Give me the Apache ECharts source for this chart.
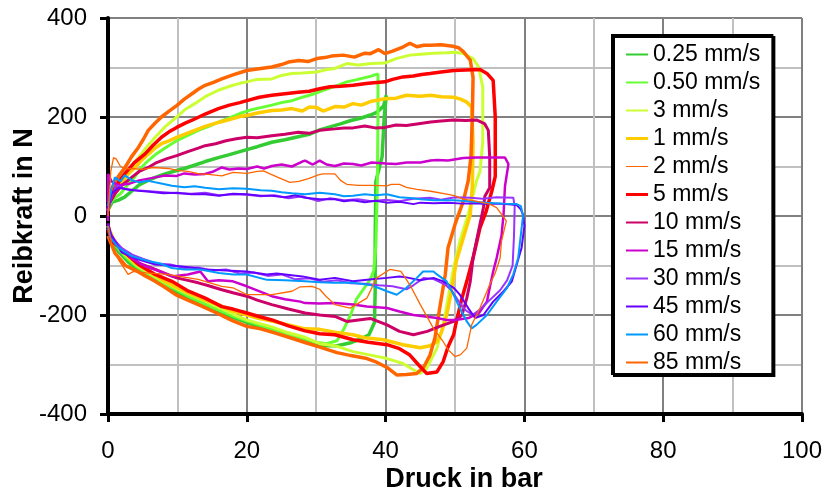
<!DOCTYPE html>
<html>
<head>
<meta charset="utf-8">
<script src="https://cdn.jsdelivr.net/npm/echarts@6/dist/echarts.min.js"></script>
<style>
  html, body { margin: 0; padding: 0; background: #fff; }
  #chart { width: 824px; height: 492px; }
</style>
</head>
<body>
<div id="chart"></div>
<script>
// Friction force vs. pressure, one hysteresis loop per piston speed.
// Each loop: [pressure in bar, friction force in N], in measurement order.

const speedNames = ['0.25 mm/s', '0.50 mm/s', '3 mm/s', '1 mm/s', '2 mm/s', '5 mm/s',
  '10 mm/s', '15 mm/s', '30 mm/s', '45 mm/s', '60 mm/s', '85 mm/s'];

const loop025 = [[0,12],[0.6,28],[1.5,32],[2.4,38],[3.4,50],[4.4,62],[5.5,70],[6.8,78],[8,84],[9.9,92],[11,96],[12.1,101],[14,110],[15.9,118],[17.5,124],[20,134],[21.5,140],[23.6,149],[25.5,154],[27.4,160],[29,165],[30.5,174],[32,180],[33.5,186],[35,193],[36.5,198],[37.8,204],[38.8,210],[39.7,222],[40.1,244],[39.8,200],[39.5,120],[38.6,70],[38.5,-50],[38.5,-150],[38.4,-215],[37.6,-240],[36.5,-248],[35,-256],[33,-262],[31,-262],[29,-255],[27,-248],[25,-236],[23,-227],[21,-220],[19,-210],[17,-200],[15,-188],[13,-176],[11,-163],[9,-148],[7,-133],[5,-115],[3,-94],[1.5,-72],[0.5,-50],[0,-20]];

const loop050 = [[0,20],[0.8,35],[1.8,45],[2.8,62],[3.8,78],[4.8,98],[5.8,112],[7,126],[8.5,140],[9.9,152],[11.5,163],[13,173],[14.5,181],[16,190],[17.5,198],[19,207],[20.5,214],[22,219],[23.6,224],[25,229],[26.5,233],[28,240],[29.5,246],[31,254],[32.7,262],[34.4,271],[36,276],[37.8,282],[38.9,287],[38.9,200],[38.8,50],[38.6,-60],[38.3,-110],[37.8,-128],[36.8,-148],[35.8,-168],[35,-198],[34,-228],[33,-252],[31.5,-258],[30,-255],[28,-247],[26,-240],[24,-230],[22,-221],[20,-212],[18,-202],[16,-190],[14,-178],[12,-165],[10,-150],[8,-136],[6,-120],[4,-101],[2.5,-82],[1,-58],[0,-25]];

const loop3 = [[0,30],[1,55],[2,75],[3,95],[4.4,118],[5.5,138],[6.8,159],[8.2,180],[9.9,200],[11,214],[12.5,227],[14,241],[15.9,254],[17.5,262],[19,268],[20,271],[21.5,276],[23.6,277],[25,284],[26.5,288],[28,289],[30.1,291],[31.5,296],[32.7,298],[34.4,308],[36,305],[38,308],[39.9,309],[41.5,318],[43.5,325],[45,327],[47,329],[48.8,330],[50,331],[51.2,328],[52.6,318],[53.4,301],[54,260],[54,150],[53.6,90],[53.1,71],[51.9,3],[50.7,-51],[49.8,-105],[49,-166],[48.3,-220],[47.4,-267],[45.9,-308],[45,-318],[44.3,-313],[42.5,-298],[40.2,-288],[37.5,-280],[35.3,-274],[32.7,-262],[30.5,-258],[28.4,-245],[26,-236],[23.6,-224],[21.5,-216],[20,-210],[18,-198],[16,-185],[14,-172],[12,-160],[10,-147],[8,-132],[6,-116],[4,-98],[2,-72],[0.8,-50],[0,-25]];

const loop1 = [[0,28],[1,48],[2,68],[2.9,85],[3.9,98],[4.8,112],[5.8,125],[6.7,136],[7.7,146],[8.8,152],[9.9,159],[11.2,166],[12.5,173],[14,181],[15.9,189],[17.5,195],[19,201],[20,203],[21.5,208],[23.6,213],[25,214],[26.5,217],[28,212],[29,220],[30.1,219],[31,212],[32.7,221],[34,220],[35.3,227],[36.5,224],[38,232],[39.9,237],[41.5,238],[43,244],[45,242],[46.5,244],[48,241],[49.8,240],[50.8,236],[51.7,230],[52.4,220],[52.6,150],[52.5,60],[52.2,3],[51.2,-44],[50.2,-91],[49.5,-152],[48.8,-200],[48.1,-233],[47.4,-254],[46.4,-262],[45,-266],[42.5,-260],[39.7,-250],[37,-246],[35.3,-240],[32.7,-235],[30.5,-229],[28.4,-228],[26,-220],[23.6,-212],[21.5,-206],[20,-200],[18,-192],[16,-180],[14,-170],[12,-158],[10,-145],[8,-130],[6,-113],[4,-96],[2,-70],[0.8,-48],[0,-20]];

const loop2 = [[0,10],[0.5,55],[1.5,80],[2.45,98],[3.4,120],[4.4,139],[5.1,155],[5.8,173],[6.8,188],[7.7,200],[8.8,212],[9.9,223],[11,236],[12.1,247],[13,256],[14,264],[15.2,270],[16.4,277],[18,285],[20,294],[21.5,297],[23.6,301],[25,306],[26,311],[27.5,314],[28.8,312],[30.1,318],[31.2,320],[32.2,323],[33.9,325],[35.5,321],[37,329],[37.8,328],[39,336],[39.9,328],[41,333],[42.3,340],[43.5,349],[44.5,342],[45.5,345],[46.4,345],[48,346],[49.7,343],[50.5,340],[51.2,332],[52.2,315],[52.6,280],[52.5,200],[52.3,120],[51.9,71],[51.2,30],[50,-17],[49,-64],[48.6,-118],[47.8,-186],[47.1,-247],[46.4,-281],[45.5,-305],[44.5,-318],[43,-320],[41.6,-321],[40.2,-306],[38.5,-294],[37.3,-288],[35,-282],[33,-276],[30.3,-264],[28.5,-256],[26.5,-247],[24,-236],[22,-228],[20,-223],[18,-212],[15.5,-195],[13.5,-182],[11.5,-170],[9.9,-160],[8.3,-145],[6.8,-132],[5.5,-122],[4.4,-113],[2.5,-100],[1,-75],[0,-40]];

const loop5 = [[0,20],[0.8,50],[1.6,70],[2.4,85],[3.8,108],[5.3,125],[6.5,143],[7.7,159],[8.8,170],[9.9,179],[11.2,188],[12.5,196],[14,206],[15.9,217],[17.5,224],[19,229],[20,233],[21.8,240],[23.6,244],[25.5,247],[27.4,250],[29,252],[30.5,257],[32,261],[33.5,262],[35.3,264],[37.5,268],[39.9,271],[41,276],[42.5,281],[44,283],[45.2,286],[46.4,288],[48,291],[49.8,294],[51.5,295],[53.6,296],[54.6,288],[55.5,274],[55.8,200],[55.8,80],[55.3,50],[54.5,10],[53.6,-24],[52.6,-85],[51.7,-132],[51,-166],[50.2,-213],[49.8,-240],[49,-264],[48.3,-294],[47.4,-315],[45.9,-318],[44.7,-300],[43.5,-281],[42,-268],[40.2,-260],[37.5,-255],[35.3,-250],[32.7,-240],[30.5,-238],[28.4,-232],[26,-222],[23.6,-210],[21.5,-202],[20,-196],[18,-188],[16.4,-183],[14,-166],[11.6,-152],[9.2,-132],[6.8,-118],[4.4,-98],[2,-68],[0.5,-50],[0,-25]];

const loop10 = [[0,20],[1,45],[2,62],[3.4,78],[4.5,90],[5.8,98],[7,108],[8.5,116],[9.9,122],[11.5,130],[13,137],[14,142],[15.5,146],[17,152],[18.5,156],[20,159],[21.5,158],[23.6,162],[25.5,165],[27.4,169],[29,167],[30.5,173],[32.7,176],[34,178],[35.3,178],[37,182],[38.5,178],[39.9,179],[41.5,184],[43,183],[45,187],[46.5,190],[48,192],[49.8,194],[51.5,193],[53.1,194],[54.3,186],[54.8,173],[55,120],[55,57],[54.3,40],[54.1,17],[53.4,-30],[52.6,-85],[52.2,-132],[51.7,-166],[51,-200],[49.8,-213],[48,-222],[46,-233],[44,-240],[42,-233],[40.2,-220],[37.8,-207],[34.4,-213],[32.7,-203],[30.5,-200],[28.4,-196],[26,-188],[23.6,-179],[21.5,-170],[20,-162],[18,-155],[16.4,-149],[14.5,-141],[13,-135],[11.5,-130],[9.9,-125],[8.2,-116],[6.8,-108],[5.5,-101],[4.4,-95],[3,-80],[1.5,-61],[0.3,-37],[0,-15]];

const loop15 = [[0,-10],[0,85],[0.5,70],[1.5,62],[3,65],[4.5,72],[6.8,78],[8.2,82],[9.9,81],[11,86],[12.5,84],[14,85],[15.2,90],[16.4,98],[17.5,94],[18.8,96],[20,95],[21.5,100],[22.5,96],[23.6,101],[25,104],[26.5,100],[28,110],[28.4,112],[29.5,104],[30.5,112],[31.5,104],[32.7,101],[34,106],[35.3,105],[36.5,102],[38,108],[40,106],[41.5,105],[43,108],[45,108],[46.5,112],[47.4,113],[49,112],[51.2,117],[53,118],[55.5,118],[57.2,118],[57.7,105],[57.2,60],[57,4],[56.7,-40],[56,-85],[55.5,-112],[55,-145],[54.6,-173],[53.5,-195],[52,-206],[50,-210],[48.8,-210],[47.4,-206],[44,-200],[42,-193],[40.2,-186],[37.3,-183],[35.3,-179],[32.7,-176],[30.5,-177],[28.4,-176],[27.7,-173],[25.5,-168],[23.6,-162],[20,-142],[18,-132],[16,-130],[14.4,-132],[13.3,-112],[11.5,-118],[9.2,-122],[7.5,-112],[5.3,-101],[3.5,-86],[2.4,-74],[1,-55],[0.3,-40],[0,-20]];

const loop30 = [[0,10],[0.5,40],[1.2,62],[2.4,55],[4,52],[6,50],[8,48],[10,46],[12,45],[14,47],[16,42],[18,44],[20,43],[22,40],[24,42],[26,36],[28,40],[30.3,30],[32,36],[34,32],[36,34],[38,30],[40,33],[42,30],[44,35],[46.4,37],[48,33],[50,38],[52.2,37],[54,35],[56,38],[58.4,37],[58.6,20],[58.5,-40],[58.3,-100],[57.5,-130],[56.5,-150],[55,-170],[53.5,-190],[52.5,-200],[51.5,-190],[50.5,-172],[49.5,-150],[48.5,-138],[47,-128],[45.5,-125],[44,-140],[43,-148],[41,-142],[39,-140],[37,-137],[35,-136],[33,-130],[31,-133],[29,-126],[27,-128],[25,-118],[23,-121],[21,-114],[19,-116],[17,-108],[15,-110],[13,-104],[11,-105],[9,-98],[7,-96],[5,-86],[3.5,-78],[2,-65],[1,-50],[0,-25]];

const loop45 = [[0,15],[0.5,45],[1.5,57],[3,53],[4.4,51],[6,49],[8,46],[9.9,47],[12,44],[14,44],[16,41],[18,45],[20,44],[22,41],[23.6,41],[25.5,38],[27,42],[28.4,37],[30.5,34],[32.7,34],[34,30],[35.3,32],[37,28],[38.5,31],[40.2,27],[42,29],[44,24],[45,27],[47,26],[49,27],[51,25],[53,26],[54.6,24],[56.5,25],[58.9,22],[59.5,13],[59.8,3],[60,-20],[59.6,-64],[58.9,-98],[58.2,-132],[57,-152],[55.5,-173],[54.1,-200],[52.9,-206],[51.9,-186],[50.7,-159],[49.8,-145],[48.3,-132],[46.9,-125],[45,-130],[43,-124],[42,-122],[40.2,-125],[38,-128],[35.3,-132],[32.7,-125],[30.5,-129],[28,-122],[24.3,-116],[22.9,-118],[20,-112],[17,-110],[14,-108],[12,-104],[9.9,-101],[6.8,-98],[4.4,-88],[2,-74],[0.5,-40],[0,-15]];

const loop60 = [[0,20],[0.5,55],[1,78],[1.8,70],[2.4,82],[3.5,72],[4.5,68],[5.8,71],[7.5,66],[9.2,61],[11,58],[12.5,60],[14,57],[16,54],[18,56],[20,55],[22,52],[23.6,51],[25,48],[26.5,46],[28.4,44],[30.5,47],[32.7,44],[34,40],[35.3,41],[37,44],[38.5,42],[40.2,44],[42,38],[44,36],[45,34],[47,32],[49.8,32],[52,30],[54.6,27],[57,25],[58.9,24],[59.5,20],[59.8,0],[59.6,-24],[59.1,-85],[58.4,-118],[57.5,-145],[56,-173],[54.6,-200],[53.1,-220],[52.4,-227],[51.7,-213],[50.7,-186],[49.8,-159],[48.8,-132],[47.4,-118],[46.9,-112],[45.4,-112],[44.5,-125],[43,-145],[41.6,-159],[40.2,-152],[38,-140],[35.3,-135],[32.5,-135],[30.5,-134],[28.4,-132],[25.5,-130],[22.9,-129],[20,-118],[18,-118],[16,-115],[13.3,-108],[11,-108],[9.2,-105],[7.5,-96],[5.8,-91],[3.4,-81],[1.5,-64],[0.3,-43],[0,-20]];

const loop85 = [[0,0],[0.4,90],[0.8,118],[1.2,115],[1.8,100],[2.5,95],[3.5,96],[5,94],[6.5,98],[8.7,96],[10,92],[11.5,90],[13.2,85],[14.5,84],[16.4,81],[18,88],[20,86],[21.5,90],[22.4,91],[23.5,84],[24.5,78],[26.2,68],[27.5,70],[29,76],[30.3,83],[31,85],[32.7,85],[33.5,72],[34.4,64],[36,62],[38,62],[40.2,61],[40.8,64],[42,64],[43,58],[44.5,54],[46.5,50],[48.8,44],[49.9,41],[51.2,34],[53,30],[55,24],[56,17],[57.4,-10],[56.7,-51],[56.5,-85],[55.8,-115],[55,-139],[53.6,-186],[52.4,-220],[51.7,-267],[50.8,-280],[50,-284],[49,-270],[48.3,-254],[46.9,-227],[45,-179],[43.5,-139],[42.2,-112],[40.6,-108],[38.7,-125],[37.3,-166],[34.9,-186],[32.7,-179],[31.4,-162],[30.5,-148],[29.4,-142],[27.7,-143],[26.5,-152],[23.6,-159],[20,-159],[18,-145],[16.4,-142],[13,-128],[8.5,-118],[5.5,-115],[3.7,-112],[2.9,-118],[1.5,-88],[0.5,-55],[0,-20]];

const loops = [loop025, loop050, loop3, loop1, loop2, loop5, loop10, loop15, loop30, loop45, loop60, loop85];
const colors = ['#33CC33', '#66FF33', '#CCFF33', '#FFCC00', '#FF6600', '#FF0000',
  '#CC0066', '#CC00CC', '#9933FF', '#6600FF', '#0099FF', '#FF6600'];
const plotWidths = [3.5, 3, 3, 3.5, 3.5, 3.5, 3, 2.5, 2, 2, 2, 1.3];
const legendWidths = [2, 2, 2, 3, 1, 3, 2, 2, 2, 2, 2, 2];

const xTicks = { min: 0, max: 100, step: 20 };
const yTicks = { min: -400, max: 400, step: 200 };

const FONT = 'Liberation Sans, Arial, sans-serif';

// Legend key: a flat bar 22 px long, as thick as the given line width.
function keyIcon(w) {
  return 'path://M0,0L22,0L22,' + w + 'L0,' + w + 'Z';
}

const chart = echarts.init(document.getElementById('chart'), null, { renderer: 'canvas' });

function axisCommon(labelMargin) {
  return {
    axisLine: { show: true, onZero: false, lineStyle: { color: '#000', width: 4 } },
    axisTick: { show: true, inside: false, length: 8, lineStyle: { color: '#000', width: 3 } },
    minorTick: { show: false, splitNumber: 2 },
    splitLine: { show: true, lineStyle: { color: '#808080', width: 2 } },
    minorSplitLine: { show: true, lineStyle: { color: '#C0C0C0', width: 2 } },
    axisLabel: { color: '#000', fontSize: 24, fontFamily: FONT, margin: labelMargin },
    nameMoveOverlap: false,
    nameTextStyle: { color: '#000', fontSize: 27, fontWeight: 'bold', fontFamily: FONT }
  };
}

const option = {
  backgroundColor: '#fff',
  animation: false,
  color: colors,
  grid: { left: 108, right: 22, top: 18, bottom: 78, containLabel: false, outerBoundsMode: 'none' },
  xAxis: Object.assign(axisCommon(25), {
    type: 'value', min: xTicks.min, max: xTicks.max, interval: xTicks.step,
    name: 'Druck in bar', nameLocation: 'middle', nameGap: 52
  }),
  yAxis: Object.assign(axisCommon(21), {
    type: 'value', min: yTicks.min, max: yTicks.max, interval: yTicks.step,
    name: 'Reibkraft in N', nameLocation: 'middle', nameGap: 70
  }),
  legend: {
    orient: 'vertical',
    left: 612, top: 35,
    padding: [8, 12, 0, 14],
    itemGap: 5,
    itemWidth: 22, itemHeight: 14,
    backgroundColor: '#fff',
    borderColor: '#000', borderWidth: 2, borderRadius: 0,
    shadowColor: '#000', shadowBlur: 0, shadowOffsetX: 2, shadowOffsetY: 2,
    selectedMode: false,
    textStyle: { color: '#000', fontSize: 23, lineHeight: 22, fontFamily: FONT },
    data: speedNames.map((n, i) => ({
      name: n,
      icon: keyIcon(legendWidths[i]),
      itemStyle: { color: colors[i], borderWidth: 0 }
    }))
  },
  series: loops.map((d, i) => ({
    name: speedNames[i],
    type: 'line',
    data: d,
    showSymbol: false,
    symbol: 'none',
    smooth: false,
    clip: true,
    lineStyle: { color: colors[i], width: plotWidths[i] },
    itemStyle: { color: colors[i] },
    emphasis: { disabled: true }
  }))
};

chart.setOption(option);

// Nudge the pressure title a little right of the plot centre.
chart.setOption({ xAxis: { nameTextStyle: { padding: [0, 0, 0, 18] } } });
</script>
</body>
</html>
